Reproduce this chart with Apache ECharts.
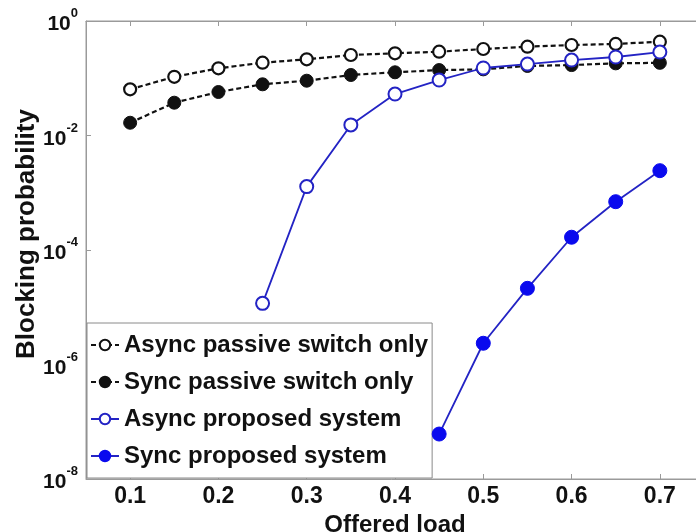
<!DOCTYPE html>
<html>
<head>
<meta charset="utf-8">
<script src="https://cdn.jsdelivr.net/npm/echarts@6/dist/echarts.min.js"></script>
<style>
html,body{margin:0;padding:0;background:#fff;}
#chart{width:696px;height:532px;}
</style>
</head>
<body>
<div id="chart"></div>
<script>
// Offered load values (x)
const loads = [0.1, 0.15, 0.2, 0.25, 0.3, 0.35, 0.4, 0.45, 0.5, 0.55, 0.6, 0.65, 0.7];
// Blocking probability series
const asyncPassive = [0.064, 0.106, 0.149, 0.187, 0.214, 0.255, 0.273, 0.291, 0.324, 0.356, 0.381, 0.397, 0.435];
const syncPassive = [0.0167, 0.0374, 0.0575, 0.0784, 0.0906, 0.114, 0.127, 0.139, 0.143, 0.164, 0.170, 0.182, 0.186];
const asyncProposedLoads = [0.25, 0.3, 0.35, 0.4, 0.45, 0.5, 0.55, 0.6, 0.65, 0.7];
const asyncProposed = [1.17e-5, 1.28e-3, 0.0153, 0.053, 0.093, 0.151, 0.177, 0.208, 0.235, 0.287];
const syncProposedLoads = [0.45, 0.5, 0.55, 0.6, 0.65, 0.7];
const syncProposed = [6.1e-8, 2.35e-6, 2.14e-5, 1.67e-4, 6.98e-4, 2.43e-3];
// Tick labels
const xTicks = [0.1, 0.2, 0.3, 0.4, 0.5, 0.6, 0.7];
const yTicks = [1e-8, 1e-6, 1e-4, 1e-2, 1];
const seriesNames = ['Async passive switch only', 'Sync passive switch only', 'Async proposed system', 'Sync proposed system'];

const FONT = 'Arial, "Liberation Sans", sans-serif';
const BLUE_LINE = '#2323c4';
const BLUE_FILL = '#0a0aee';
const AXIS_GRAY = '#9a9a9a';

function pairs(xs, ys) { return xs.map((x, i) => [x, ys[i]]); }

const chart = echarts.init(document.getElementById('chart'), null, {renderer: 'canvas'});

chart.setOption({
  animation: false,
  backgroundColor: '#fff',
  grid: {
    show: true, borderColor: AXIS_GRAY, borderWidth: 1,
    containLabel: false, outerBoundsMode: 'none',
    left: 86, top: 21, width: 618, height: 458
  },
  legend: {
    orient: 'vertical',
    left: 87,
    top: 323,
    backgroundColor: '#fff',
    borderColor: '#8a8a8a',
    borderWidth: 1,
    padding: [10, 4, 10, 3],
    itemGap: 13,
    itemWidth: 28,
    itemHeight: 13,
    textStyle: {fontFamily: FONT, fontWeight: 'bold', fontSize: 24, color: '#111', lineHeight: 24},
    data: seriesNames
  },
  xAxis: [{
    type: 'value',
    min: 0.05, max: 0.75,
    position: 'bottom',
    axisLine: {show: true, lineStyle: {color: AXIS_GRAY}},
    axisTick: {show: true, inside: true, length: 5, customValues: xTicks, lineStyle: {color: AXIS_GRAY}},
    axisLabel: {customValues: xTicks, margin: 6, fontFamily: FONT, fontWeight: 'bold', fontSize: 23, color: '#111',
      formatter: v => v.toFixed(1)},
    splitLine: {show: false},
    name: 'Offered load',
    nameLocation: 'middle',
    nameGap: 26,
    nameTextStyle: {fontFamily: FONT, fontWeight: 'bold', fontSize: 24, color: '#111'}
  }, {
    type: 'value',
    min: 0.05, max: 0.75,
    position: 'top',
    axisLine: {show: true, lineStyle: {color: AXIS_GRAY}},
    axisTick: {show: true, inside: true, length: 5, customValues: xTicks, lineStyle: {color: AXIS_GRAY}},
    axisLabel: {show: false},
    splitLine: {show: false}
  }],
  yAxis: {
    type: 'log',
    logBase: 10,
    min: 1e-8, max: 1,
    axisLine: {show: true, lineStyle: {color: AXIS_GRAY}},
    axisTick: {show: true, inside: true, length: 5, customValues: yTicks, lineStyle: {color: AXIS_GRAY}},
    minorTick: {show: false},
    splitLine: {show: false},
    axisLabel: {
      customValues: yTicks,
      margin: 8,
      formatter: v => '{b|10}{s|' + Math.round(Math.log10(v)) + '}',
      rich: {
        b: {fontFamily: FONT, fontWeight: 'bold', fontSize: 21, color: '#111', lineHeight: 28, verticalAlign: 'bottom'},
        s: {fontFamily: FONT, fontWeight: 'bold', fontSize: 13, color: '#111', lineHeight: 28, verticalAlign: 'top'}
      }
    }
  },
  graphic: [{
    type: 'text',
    x: 27, y: 234,
    rotation: Math.PI / 2,
    style: {text: 'Blocking probability', font: 'bold 26px ' + FONT, fill: '#111', align: 'center', verticalAlign: 'middle'}
  }],
  series: [{
    name: seriesNames[0],
    type: 'line',
    data: pairs(loads, asyncPassive),
    symbol: 'circle',
    symbolSize: 12,
    showAllSymbol: true,
    lineStyle: {color: '#111', width: 2.2, type: [5, 3]},
    itemStyle: {color: '#fff', borderColor: '#111', borderWidth: 2.2},
    z: 3
  }, {
    name: seriesNames[1],
    type: 'line',
    data: pairs(loads, syncPassive),
    symbol: 'circle',
    symbolSize: 13,
    lineStyle: {color: '#111', width: 2.2, type: [5, 3]},
    itemStyle: {color: '#111', borderColor: '#111', borderWidth: 1},
    z: 3
  }, {
    name: seriesNames[2],
    type: 'line',
    data: pairs(asyncProposedLoads, asyncProposed),
    symbol: 'circle',
    symbolSize: 13,
    lineStyle: {color: BLUE_LINE, width: 1.8},
    itemStyle: {color: '#fff', borderColor: BLUE_LINE, borderWidth: 2},
    z: 4
  }, {
    name: seriesNames[3],
    type: 'line',
    data: pairs(syncProposedLoads, syncProposed),
    symbol: 'circle',
    symbolSize: 14,
    lineStyle: {color: BLUE_LINE, width: 1.8},
    itemStyle: {color: BLUE_FILL, borderColor: BLUE_FILL, borderWidth: 1},
    z: 4
  }]
});
</script>
</body>
</html>
